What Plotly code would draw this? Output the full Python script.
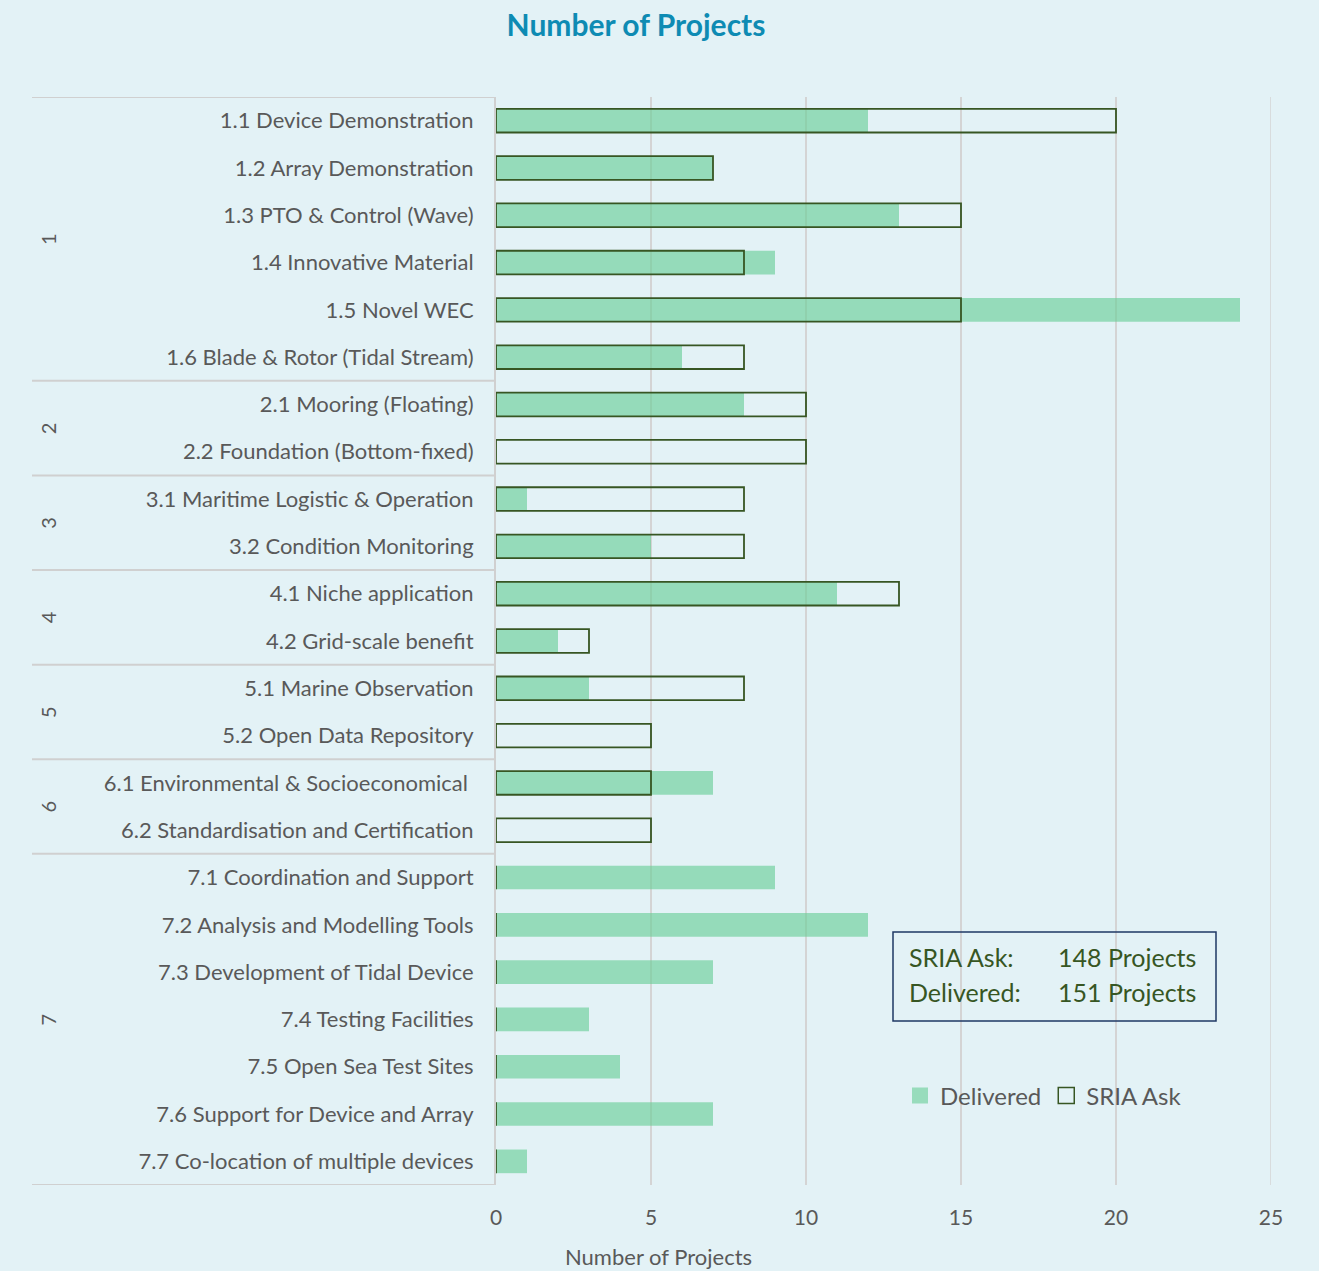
import plotly.graph_objects as go

# Categories (top to bottom) with their group number
categories = [
    "1.1 Device Demonstration", "1.2 Array Demonstration", "1.3 PTO & Control (Wave)",
    "1.4 Innovative Material", "1.5 Novel WEC", "1.6 Blade & Rotor (Tidal Stream)",
    "2.1 Mooring (Floating)", "2.2 Foundation (Bottom-fixed)",
    "3.1 Maritime Logistic & Operation", "3.2 Condition Monitoring",
    "4.1 Niche application", "4.2 Grid-scale benefit",
    "5.1 Marine Observation", "5.2 Open Data Repository",
    "6.1 Environmental & Socioeconomical ", "6.2 Standardisation and Certification",
    "7.1 Coordination and Support", "7.2 Analysis and Modelling Tools",
    "7.3 Development of Tidal Device", "7.4 Testing Facilities",
    "7.5 Open Sea Test Sites", "7.6 Support for Device and Array",
    "7.7 Co-location of multiple devices",
]
groups = ["1"] * 6 + ["2"] * 2 + ["3"] * 2 + ["4"] * 2 + ["5"] * 2 + ["6"] * 2 + ["7"] * 7
delivered = [12, 7, 13, 9, 24, 6, 8, 0, 1, 5, 11, 2, 3, 0, 7, 0, 9, 12, 7, 3, 4, 7, 1]
sria_ask = [20, 7, 15, 8, 15, 8, 10, 10, 8, 8, 13, 3, 8, 5, 5, 5, 0, 0, 0, 0, 0, 0, 0]
x_ticks = [0, 5, 10, 15, 20, 25]

BG = "#e3f2f6"
GREY_TXT = "#595959"
DARK_GREEN = "#375623"
FILL = "rgba(101,205,149,0.62)"
GRID = "#d4d4d4"
FONT = "Lato"

fig = go.Figure()

fig.add_trace(go.Bar(
    y=categories, x=delivered, orientation="h", name="Delivered",
    marker=dict(color=FILL, line=dict(width=0)),
    width=0.5, showlegend=False,
))
fig.add_trace(go.Bar(
    y=categories, x=sria_ask, orientation="h", name="SRIA Ask",
    marker=dict(color="rgba(0,0,0,0)", line=dict(color=DARK_GREEN, width=1.8)),
    width=0.5, showlegend=False,
))

# legend entries (bigger square swatches than the bar legend gives)
fig.add_trace(go.Scatter(x=[None], y=[None], mode="markers", name="Delivered",
                         marker=dict(symbol="square", size=16, color="#98dcbc",
                                     line=dict(width=0))))
fig.add_trace(go.Scatter(x=[None], y=[None], mode="markers", name="SRIA Ask",
                         marker=dict(symbol="square", size=16, color="rgba(0,0,0,0)",
                                     line=dict(color=DARK_GREEN, width=1.5))))

# last gridline sits on the plot edge, draw it explicitly
fig.add_shape(type="line", xref="x", yref="paper", x0=x_ticks[-1], x1=x_ticks[-1],
              y0=0, y1=1, layer="below", line=dict(color=GRID, width=1.5))

# group separators and group labels on the left
left_edge = (32 - 496) / 775
bounds = [-0.5]
for i in range(1, len(groups)):
    if groups[i] != groups[i - 1]:
        bounds.append(i - 0.5)
bounds.append(len(groups) - 0.5)
for b in bounds:
    fig.add_shape(type="line", xref="paper", yref="y", x0=left_edge, x1=0, y0=b, y1=b,
                  line=dict(color="#d0d0d0", width=2))

seen = []
for g in groups:
    if g not in seen:
        seen.append(g)
for g in seen:
    idx = [i for i, gg in enumerate(groups) if gg == g]
    mid = (idx[0] + idx[-1]) / 2
    fig.add_annotation(xref="paper", yref="y", x=(48 - 496) / 775, y=mid, text=g,
                       showarrow=False, textangle=-90, xanchor="center", yanchor="middle",
                       font=dict(family=FONT, size=20, color=GREY_TXT))

# summary box
fig.add_shape(type="rect", xref="paper", yref="paper",
              x0=(893 - 496) / 775, x1=(1216 - 496) / 775,
              y0=(1185 - 1021) / 1088, y1=(1185 - 932) / 1088,
              line=dict(color="#1f3864", width=1.5), fillcolor="rgba(0,0,0,0)")
box_rows = [("SRIA Ask:", "148 Projects", 957), ("Delivered:", "151 Projects", 992)]
for lab, val, py in box_rows:
    yy = (1185 - py) / 1088
    fig.add_annotation(xref="paper", yref="paper", x=(907 - 496) / 775, y=yy, text=lab,
                       showarrow=False, xanchor="left", yanchor="middle",
                       font=dict(family=FONT, size=25, color=DARK_GREEN))
    fig.add_annotation(xref="paper", yref="paper", x=(1056 - 496) / 775, y=yy, text=val,
                       showarrow=False, xanchor="left", yanchor="middle",
                       font=dict(family=FONT, size=25, color=DARK_GREEN))

# x axis title
fig.add_annotation(xref="paper", yref="paper", x=(658 - 496) / 775, y=(1185 - 1256) / 1088,
                   text="Number of Projects", showarrow=False, xanchor="center",
                   yanchor="middle", font=dict(family=FONT, size=22, color=GREY_TXT))

fig.update_layout(
    width=1319, height=1271,
    margin=dict(l=496, r=48, t=97, b=86),
    paper_bgcolor=BG, plot_bgcolor=BG,
    barmode="overlay",
    title=dict(text="<b>Number of Projects</b>", x=636 / 1319, xanchor="center",
               y=1 - 25 / 1271, yanchor="middle",
               font=dict(family=FONT, size=30, color="#0e8bb3")),
    font=dict(family=FONT, color=GREY_TXT),
    xaxis=dict(range=[0, 25], tickvals=x_ticks, showgrid=True, gridcolor=GRID,
               gridwidth=1.5, zeroline=False, showline=False, ticks="",
               tickfont=dict(size=21, color=GREY_TXT), ticklabelstandoff=18),
    yaxis=dict(range=[len(categories) - 0.5, -0.5], categoryorder="array",
               categoryarray=categories, showgrid=False, showline=True,
               linecolor="#d0d0d0", linewidth=2, ticks="",
               tickfont=dict(size=22, color=GREY_TXT), ticklabelstandoff=16),
    showlegend=True,
    legend=dict(orientation="h", x=(900 - 496) / 775, y=(1185 - 1096) / 1088,
                xanchor="left", yanchor="middle", bgcolor="rgba(0,0,0,0)",
                font=dict(family=FONT, size=24, color=GREY_TXT),
                itemwidth=30, traceorder="normal"),
)

fig.write_html("out.html", config={"displayModeBar": False},
               post_script="document.body.style.margin='0';")
